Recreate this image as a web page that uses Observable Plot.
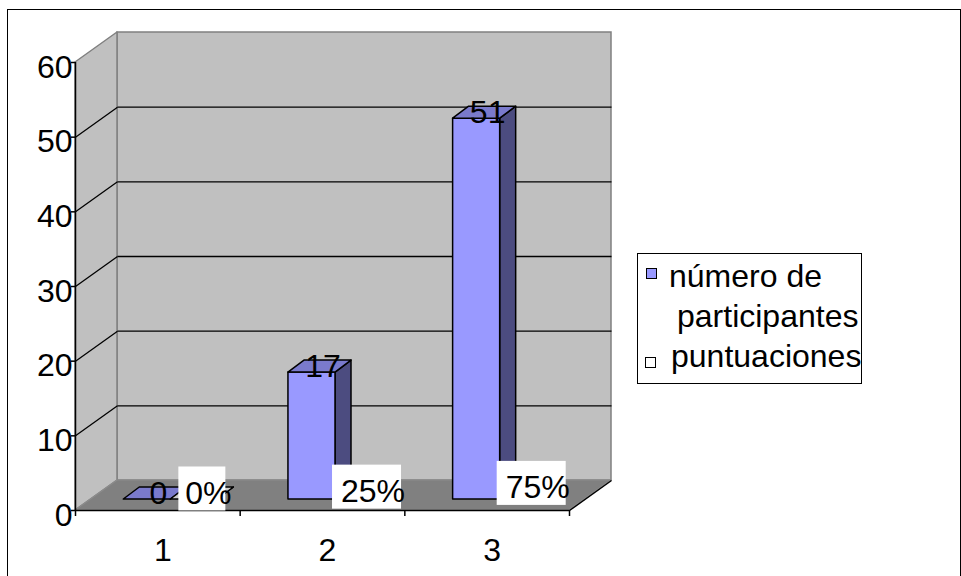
<!DOCTYPE html>
<html>
<head>
<meta charset="utf-8">
<script src="https://cdn.jsdelivr.net/npm/d3@7"></script>
<script src="https://cdn.jsdelivr.net/npm/@observablehq/plot@0.6"></script>
<style>
  html, body { margin: 0; padding: 0; background: #fff; overflow: hidden; }
  #page { position: relative; width: 961px; height: 576px; font-family: "Liberation Sans", Arial, sans-serif; }
  #chart { position: absolute; left: 0; top: 0; }
  #frame { position: absolute; left: 7px; top: 9px; width: 954px; height: 600px; border: 1px solid #000; box-sizing: border-box; pointer-events: none; }
  #legend { position: absolute; left: 637px; top: 253px; width: 225px; height: 131px; border: 1px solid #000; box-sizing: border-box; background: #fff; font-size: 32px; color: #000; }
  #legend .row { position: absolute; white-space: nowrap; line-height: 40px; }
  #legend .sw { position: absolute; width: 11px; height: 11px; border: 1px solid #000; box-sizing: border-box; }
</style>
</head>
<body>
<div id="page">
  <div id="chart"></div>
  <div id="legend"></div>
  <div id="frame"></div>
</div>
<script>
// ---- data ----
const categories = ["1", "2", "3"];
const participantes = [0, 17, 51];
const puntuaciones = [0, 0.25, 0.75];
const seriesNames = ["número de participantes", "puntuaciones"];
const yTicks = [0, 10, 20, 30, 40, 50, 60];
const yMax = 60;

// ---- layout ----
const W = 961, H = 576;
const M = {top: 62, right: 392, bottom: 66, left: 75};
const n = categories.length;
const pxPerX = (W - M.left - M.right) / n;
const pxPerY = (H - M.top - M.bottom) / yMax;
// oblique depth offsets, given in pixels and expressed in data units
const depth = (px, py) => ({x: px / pxPerX, y: py / pxPerY});
const WALL = depth(42, 30);
const BF = depth(13, 11);   // front plane of the bars
const BB = depth(29, 23);   // back plane of the bars

const series = [
  {name: seriesNames[0], values: participantes, fmt: d3.format("d"),
   front: "#9999ff", top: "#7a7acc", side: "#4c4c80"},
  {name: seriesNames[1], values: puntuaciones, fmt: d3.format(".0%"),
   front: "#ffffff", top: "#cccccc", side: "#999999"}
];

// clustered columns, gap width 150%
const gapWidth = 1.5;
const barW = 1 / (series.length + gapWidth);
const lead = gapWidth * barW / 2;

const bars = series.flatMap((s, si) => s.values.map((v, i) => {
  const x0 = i + lead + si * barW;
  return {si, key: si + "-" + i, x0, x1: x0 + barW, v, text: s.fmt(v)};
}));

const tops = bars.flatMap(b => [
  {si: b.si, key: b.key, y: b.v + BF.y, x1: b.x0 + BF.x, x2: b.x1 + BF.x},
  {si: b.si, key: b.key, y: b.v + BB.y, x1: b.x0 + BB.x, x2: b.x1 + BB.x}
]);
const sides = bars.flatMap(b => [
  {si: b.si, key: b.key, x: b.x1 + BF.x, y1: BF.y, y2: b.v + BF.y},
  {si: b.si, key: b.key, x: b.x1 + BB.x, y1: BB.y, y2: b.v + BB.y}
]);

const sideWall = [
  {x: 0, y1: 0, y2: yMax},
  {x: WALL.x, y1: WALL.y, y2: yMax + WALL.y}
];
const floor = [
  {y: 0, x1: 0, x2: n},
  {y: WALL.y, x1: WALL.x, x2: n + WALL.x}
];
const grid = yTicks.filter(t => t > 0 && t < yMax);

const barMarks = si => {
  const s = series[si];
  const st = {stroke: "#000", strokeWidth: 1.5, strokeLinejoin: "round"};
  return [
    Plot.area(sides.filter(d => d.si === si), {x1: "x", y1: "y1", y2: "y2", z: "key", fill: s.side, ...st}),
    Plot.rect(bars.filter(d => d.si === si), {
      x1: d => d.x0 + BF.x, x2: d => d.x1 + BF.x,
      y1: BF.y, y2: d => d.v + BF.y, fill: s.front, ...st
    }),
    Plot.area(tops.filter(d => d.si === si), {x1: "x1", x2: "x2", y1: "y", z: "key", fill: s.top, ...st})
  ];
};

const cx = d => (d.x0 + d.x1) / 2 + (BF.x + BB.x) / 2;
const cy = d => d.v + (BF.y + BB.y) / 2;
const boxHalf = d => (11 * d.text.length + 1.5) / pxPerX;

const chart = Plot.plot({
  width: W,
  height: H,
  marginTop: M.top,
  marginRight: M.right,
  marginBottom: M.bottom,
  marginLeft: M.left,
  x: {domain: [0, n]},
  y: {domain: [0, yMax]},
  style: {
    fontFamily: "'Liberation Sans', Arial, sans-serif",
    fontSize: "32px",
    background: "transparent",
    overflow: "visible",
    color: "#000"
  },
  marks: [
    // walls and floor
    Plot.rect([0], {x1: WALL.x, x2: n + WALL.x, y1: WALL.y, y2: yMax + WALL.y,
      fill: "#c0c0c0", stroke: "#808080", strokeWidth: 1.5}),
    Plot.area(sideWall, {x1: "x", y1: "y1", y2: "y2", fill: "#c0c0c0", stroke: "#808080", strokeWidth: 1.5}),
    Plot.area(floor, {x1: "x1", x2: "x2", y1: "y", fill: "#808080", stroke: "#8c8c8c", strokeWidth: 1.2}),
    // gridlines across the side wall and the back wall
    Plot.link(grid, {x1: 0, y1: d => d, x2: WALL.x, y2: d => d + WALL.y, stroke: "#000", strokeWidth: 1.3}),
    Plot.link(grid, {x1: WALL.x, y1: d => d + WALL.y, x2: n + WALL.x, y2: d => d + WALL.y, stroke: "#000", strokeWidth: 1.3}),
    Plot.link([n], {x1: d => d, y1: 0, x2: d => d + WALL.x, y2: WALL.y, stroke: "#000", strokeWidth: 1.5}),
    // axes
    Plot.ruleX([0], {y1: 0, y2: yMax, stroke: "#000", strokeWidth: 1.5}),
    Plot.ruleY([0], {x1: 0, x2: n, stroke: "#000", strokeWidth: 1.5}),
    Plot.axisY(yTicks, {tickSize: 4, tickFormat: () => "", label: null, strokeWidth: 1.5}),
    Plot.axisY(yTicks, {tickSize: 0, tickPadding: 3, dy: 5, label: null, fontSize: 32}),
    Plot.axisX(d3.range(n + 1), {tickSize: 6, tickFormat: () => "", label: null, strokeWidth: 1.5}),
    Plot.axisX(categories.map((c, i) => i + 0.5), {
      tickSize: 0, tickPadding: 28, dx: 5, label: null, fontSize: 32,
      tickFormat: d => categories[Math.floor(d)]
    }),
    // columns
    ...barMarks(0),
    ...barMarks(1),
    // value labels
    Plot.text(bars.filter(d => d.si === 0), {x: cx, y: cy, text: "text", dx: 3, fontSize: 32}),
    Plot.rect(bars.filter(d => d.si === 1), {
      x1: d => cx(d) - boxHalf(d), x2: d => cx(d) + boxHalf(d),
      y1: d => cy(d) + (4.5 - 22) / pxPerY, y2: d => cy(d) + (4.5 + 22) / pxPerY,
      fill: "#fff"
    }),
    Plot.text(bars.filter(d => d.si === 1), {x: cx, y: cy, text: "text", dx: 6, fontSize: 32})
  ]
});
document.getElementById("chart").appendChild(chart);

// ---- legend: the first entry wraps onto two lines ----
const legend = document.getElementById("legend");
const words = series[0].name.split(" ");
const rows = [
  {text: words.slice(0, 2).join(" "), left: 31, top: 2, sw: {left: 8, top: 14, fill: series[0].front}},
  {text: words.slice(2).join(" "), left: 39, top: 42},
  {text: series[1].name, left: 33, top: 82, sw: {left: 7, top: 103, fill: series[1].front}}
];
for (const r of rows) {
  const t = document.createElement("div");
  t.className = "row";
  t.style.left = r.left + "px";
  t.style.top = r.top + "px";
  t.textContent = r.text;
  legend.appendChild(t);
  if (r.sw) {
    const s = document.createElement("div");
    s.className = "sw";
    s.style.left = r.sw.left + "px";
    s.style.top = r.sw.top + "px";
    s.style.background = r.sw.fill;
    legend.appendChild(s);
  }
}
</script>
</body>
</html>
